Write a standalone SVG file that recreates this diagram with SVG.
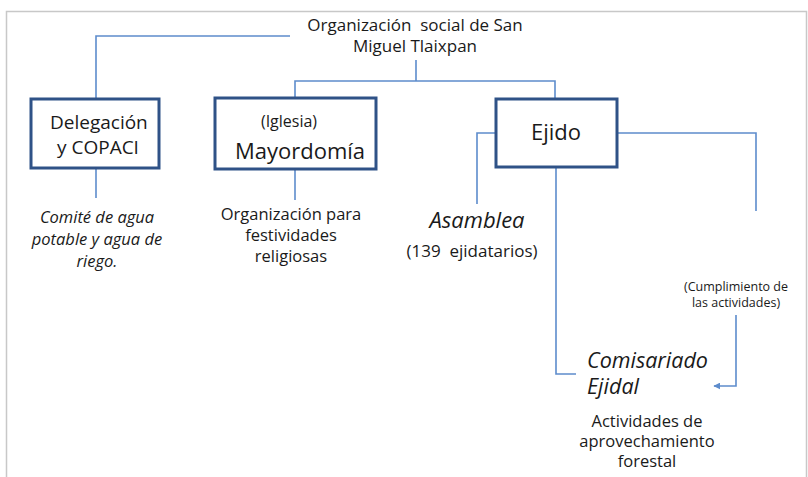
<svg xmlns="http://www.w3.org/2000/svg" width="808" height="477" viewBox="0 0 808 477">
<defs>
<style>
text{font-family:"Open Sans","Liberation Sans",sans-serif;fill:#1a1a1a;white-space:pre}
.c{text-anchor:middle}
.i{font-style:italic}
.box{fill:#fff;stroke:#2f5287;stroke-width:3}
.ln{fill:none;stroke:#5d8ccc;stroke-width:1.6}
</style>
<marker id="ah" viewBox="0 0 10 10" refX="9" refY="5" markerWidth="7" markerHeight="7" markerUnits="userSpaceOnUse" orient="auto">
<path d="M0,0 L10,5 L0,10 z" fill="#5d8ccc"/>
</marker>
</defs>
<rect width="808" height="477" fill="#fff"/>
<path d="M6.5,500 V11.5 H806.5 V500" fill="none" stroke="#c8c8c8" stroke-width="1.5"/>
<g id="connectors">
<path class="ln" d="M290,36 H96 V98"/>
<path class="ln" d="M416,60 V81 M295,98 V81 H555 V98"/>
<path class="ln" d="M96,169 V198"/>
<path class="ln" d="M295,169 V200"/>
<path class="ln" d="M495,133 H477 V204"/>
<path class="ln" d="M617,133 H756 V211"/>
<path class="ln" d="M556,167 V374 H576"/>
<path class="ln" d="M736,315 V386 H714" marker-end="url(#ah)"/>
</g>
<g id="title">
<text class="c" x="415" y="31" font-size="17" xml:space="preserve">Organización  social de San</text>
<text class="c" x="415" y="52" font-size="17">Miguel Tlaixpan</text>
</g>
<g id="delegacion">
<rect class="box" x="31" y="99" width="128" height="69"/>
<text x="50" y="129" font-size="19">Delegación</text>
<text x="57" y="154" font-size="19">y COPACI</text>
</g>
<g id="comite">
<text class="c i" x="97" y="223" font-size="16.5">Comité de agua</text>
<text class="c i" x="97" y="245" font-size="16.5">potable y agua de</text>
<text class="c i" x="97" y="267" font-size="16.5">riego.</text>
</g>
<g id="mayordomia">
<rect class="box" x="215" y="98" width="161" height="71"/>
<text class="c" x="289" y="127" font-size="16">(Iglesia)</text>
<text x="235" y="159" font-size="22">Mayordomía</text>
</g>
<g id="festividades">
<text class="c" x="291" y="220" font-size="16.5">Organización para</text>
<text class="c" x="291" y="241" font-size="16.5">festividades</text>
<text class="c" x="291" y="262" font-size="16.5">religiosas</text>
</g>
<g id="ejido">
<rect class="box" x="496" y="99" width="121" height="68"/>
<text class="c" x="556" y="140" font-size="22">Ejido</text>
</g>
<g id="asamblea">
<text class="c i" x="477" y="228" font-size="22">Asamblea</text>
<text class="c" x="472" y="257" font-size="17" xml:space="preserve">(139  ejidatarios)</text>
</g>
<g id="cumplimiento">
<text class="c" x="736" y="291" font-size="12.5">(Cumplimiento de</text>
<text class="c" x="736" y="307" font-size="12.5">las actividades)</text>
</g>
<g id="comisariado">
<text class="i" x="587" y="368" font-size="21.5">Comisariado</text>
<text class="i" x="587" y="394" font-size="21.5">Ejidal</text>
</g>
<g id="actividades">
<text class="c" x="647" y="427" font-size="16.5">Actividades de</text>
<text class="c" x="647" y="447" font-size="16.5">aprovechamiento</text>
<text class="c" x="647" y="467" font-size="16.5">forestal</text>
</g>
</svg>
